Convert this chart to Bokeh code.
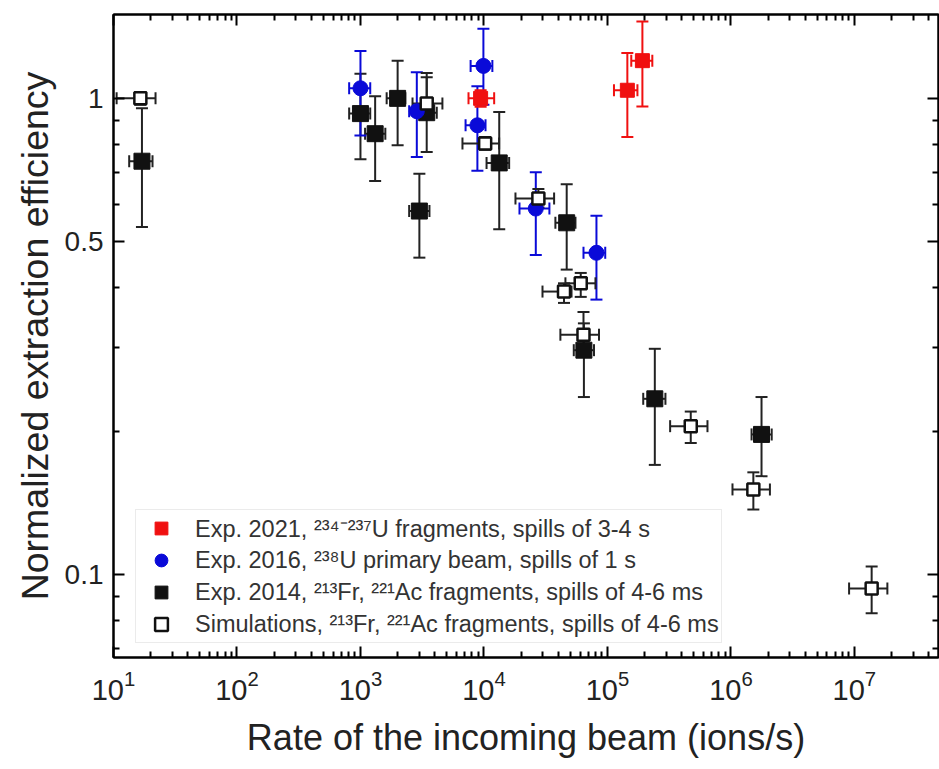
from bokeh.plotting import figure
from bokeh.models import (ColumnDataSource, Whisker, TeeHead, Range1d, LogAxis,
                          FixedTicker, LogTickFormatter, NumeralTickFormatter,
                          CustomJSTickFormatter, Legend, LegendItem)
from bokeh.embed import file_html
from bokeh.resources import INLINE

FONT = "Liberation Sans"

# Exp. 2021, 234-237U fragments, spills of 3-4 s
x21 = [9.4e3, 1.45e5, 1.92e5]
x21_lo = [7.5e3, 1.13e5, 1.56e5]
x21_hi = [1.21e4, 1.75e5, 2.31e5]
y21 = [1.0, 1.04, 1.20]
y21_lo = [0.96, 0.83, 0.962]
y21_hi = [1.04, 1.245, 1.45]

# Exp. 2016, 238U primary beam, spills of 1 s
x16 = [1.0e3, 2.86e3, 9.9e3, 8.85e3, 2.63e4, 8.15e4]
x16_lo = [8.1e2, 2.48e3, 7.8e3, 7.1e3, 1.94e4, 6.4e4]
x16_hi = [1.2e3, 3.48e3, 1.17e4, 1.03e4, 3.39e4, 9.6e4]
y16 = [1.05, 0.94, 1.17, 0.878, 0.587, 0.474]
y16_lo = [0.836, 0.753, 0.97, 0.705, 0.469, 0.378]
y16_hi = [1.257, 1.135, 1.40, 1.06, 0.70, 0.567]

# Exp. 2014, 213Fr, 221Ac fragments, spills of 4-6 ms
x14 = [17, 1.0e3, 1.315e3, 2.0e3, 3.0e3, 3.44e3, 1.33e4, 4.68e4, 6.45e4, 2.42e5, 1.77e6]
x14_lo = [13.4, 8.1e2, 1.09e3, 1.63e3, 2.48e3, 2.85e3, 1.05e4, 3.79e4, 5.34e4, 1.95e5, 1.47e6]
x14_hi = [20.7, 1.2e3, 1.59e3, 2.31e3, 3.62e3, 4.15e3, 1.6e4, 5.51e4, 7.79e4, 2.95e5, 2.14e6]
y14 = [0.738, 0.929, 0.843, 1.0, 0.58, 0.933, 0.732, 0.548, 0.296, 0.234, 0.197]
y14_lo = [0.537, 0.745, 0.671, 0.797, 0.463, 0.772, 0.531, 0.437, 0.236, 0.17, 0.161]
y14_hi = [0.953, 1.127, 1.01, 1.2, 0.695, 1.107, 0.936, 0.66, 0.337, 0.298, 0.236]

# Simulations, 213Fr, 221Ac fragments, spills of 4-6 ms
xsim = [16.5, 3.44e3, 1.023e4, 2.76e4, 4.45e4, 6.08e4, 6.4e4, 4.73e5, 1.52e6, 1.38e7]
xsim_lo = [10.6, 2.64e3, 6.7e3, 1.8e4, 2.98e4, 4.57e4, 4.16e4, 3.22e5, 1.03e6, 9.06e6]
xsim_hi = [21.9, 4.61e3, 1.328e4, 3.7e4, 5.12e4, 8.0e4, 8.55e4, 6.46e5, 2.07e6, 1.85e7]
ysim = [1.0, 0.975, 0.804, 0.616, 0.393, 0.409, 0.319, 0.205, 0.151, 0.0935]
ysim_lo = [0.97, 0.95, 0.78, 0.59, 0.372, 0.383, 0.30, 0.189, 0.137, 0.083]
ysim_hi = [1.03, 1.13, 0.83, 0.645, 0.409, 0.43, 0.356, 0.22, 0.164, 0.104]

legend_labels = [
    "Exp. 2021, \u00b2\u00b3\u2074\u207b\u00b2\u00b3\u2077U fragments, spills of 3-4 s",
    "Exp. 2016, \u00b2\u00b3\u2078U primary beam, spills of 1 s",
    "Exp. 2014, \u00b2\u00b9\u00b3Fr, \u00b2\u00b2\u00b9Ac fragments, spills of 4-6 ms",
    "Simulations, \u00b2\u00b9\u00b3Fr, \u00b2\u00b2\u00b9Ac fragments, spills of 4-6 ms",
]

x_major = [10.0 ** n for n in range(1, 8)]
x_minor = [k * 10.0 ** n for n in range(1, 8) for k in range(2, 10)]
y_major = [0.1, 0.5, 1.0]
y_minor = [0.07, 0.08, 0.09, 0.2, 0.3, 0.4, 0.6, 0.7, 0.8, 0.9]

p = figure(width=939, height=769, x_axis_type="log", y_axis_type="log",
           x_range=Range1d(10, 4.8e7), y_range=Range1d(0.067, 1.5),
           output_backend="svg", toolbar_location=None,
           min_border_left=113, min_border_right=1, min_border_top=14,
           min_border_bottom=112, background_fill_color="white",
           border_fill_color="white")
p.xgrid.visible = False
p.ygrid.visible = False
p.outline_line_color = "black"
p.outline_line_width = 2


def style_axis(ax, major, minor, show_labels):
    ax.ticker = FixedTicker(ticks=major, minor_ticks=minor)
    ax.axis_line_color = "black"
    ax.axis_line_width = 2
    ax.major_tick_in = 11
    ax.major_tick_out = 0
    ax.minor_tick_in = 6
    ax.minor_tick_out = 0
    ax.major_tick_line_color = "black"
    ax.minor_tick_line_color = "black"
    ax.major_tick_line_width = 2
    ax.minor_tick_line_width = 2
    ax.major_label_text_font = FONT
    ax.major_label_text_color = "#222222"
    ax.axis_label_text_font = FONT
    ax.axis_label_text_font_style = "normal"
    ax.axis_label_text_color = "#222222"
    if not show_labels:
        # mirrored frame axis: ticks only
        ax.formatter = CustomJSTickFormatter(code="return ''")
        ax.major_label_text_font_size = "1px"
        ax.major_label_standoff = 0


xa = p.xaxis[0]
style_axis(xa, x_major, x_minor, True)
xa.formatter = LogTickFormatter()
xa.major_label_text_font_size = "29px"
xa.major_label_standoff = 12
xa.axis_label = "Rate of the incoming beam (ions/s)"
xa.axis_label_text_font_size = "36px"
xa.axis_label_standoff = 14

ya = p.yaxis[0]
style_axis(ya, y_major, y_minor, True)
ya.formatter = NumeralTickFormatter(format="0.[0]")
ya.major_label_text_font_size = "28px"
ya.major_label_standoff = 10
ya.axis_label = "Normalized extraction efficiency"
ya.axis_label_text_font_size = "37.5px"
ya.axis_label_standoff = 6

top = LogAxis()
style_axis(top, x_major, x_minor, False)
p.add_layout(top, "above")
right = LogAxis()
style_axis(right, y_major, y_minor, False)
p.add_layout(right, "right")


def error_bars(src, color, cap):
    head = dict(size=cap, line_color=color, line_width=2)
    p.add_layout(Whisker(source=src, base="x", lower="ylo", upper="yhi",
                         dimension="height", line_color=color, line_width=2,
                         lower_head=TeeHead(**head), upper_head=TeeHead(**head)))
    p.add_layout(Whisker(source=src, base="y", lower="xlo", upper="xhi",
                         dimension="width", line_color=color, line_width=2,
                         lower_head=TeeHead(**head), upper_head=TeeHead(**head)))


def make_source(x, xlo, xhi, y, ylo, yhi):
    return ColumnDataSource(dict(x=x, xlo=xlo, xhi=xhi, y=y, ylo=ylo, yhi=yhi))


s14 = make_source(x14, x14_lo, x14_hi, y14, y14_lo, y14_hi)
s16 = make_source(x16, x16_lo, x16_hi, y16, y16_lo, y16_hi)
s21 = make_source(x21, x21_lo, x21_hi, y21, y21_lo, y21_hi)
ssim = make_source(xsim, xsim_lo, xsim_hi, ysim, ysim_lo, ysim_hi)

BLACK = "#111111"
BLUE = "#0a0ad8"
RED = "#f01010"

error_bars(s14, "#222222", 12)
error_bars(s16, BLUE, 12)
error_bars(s21, RED, 12)
error_bars(ssim, "#222222", 12)

r14 = p.scatter("x", "y", source=s14, marker="square", size=16,
                fill_color=BLACK, line_color=BLACK)
r16 = p.scatter("x", "y", source=s16, marker="circle", size=15,
                fill_color=BLUE, line_color=BLUE)
r21 = p.scatter("x", "y", source=s21, marker="square", size=14,
                fill_color=RED, line_color=RED)
rsim = p.scatter("x", "y", source=ssim, marker="square", size=12,
                 fill_color="white", line_color=BLACK, line_width=2.5)

legend = Legend(items=[LegendItem(label=legend_labels[0], renderers=[r21]),
                       LegendItem(label=legend_labels[1], renderers=[r16]),
                       LegendItem(label=legend_labels[2], renderers=[r14]),
                       LegendItem(label=legend_labels[3], renderers=[rsim])],
                location=(22, 14), orientation="vertical",
                label_text_font=FONT, label_text_font_size="23.5px",
                label_text_color="#333333", glyph_height=32, glyph_width=46,
                label_height=32, label_standoff=11, spacing=0, padding=2,
                margin=0, border_line_color="#d8d8d8", border_line_width=1,
                background_fill_color="white", background_fill_alpha=1.0)
p.add_layout(legend)

open("out.html", "w").write(file_html(p, INLINE))
